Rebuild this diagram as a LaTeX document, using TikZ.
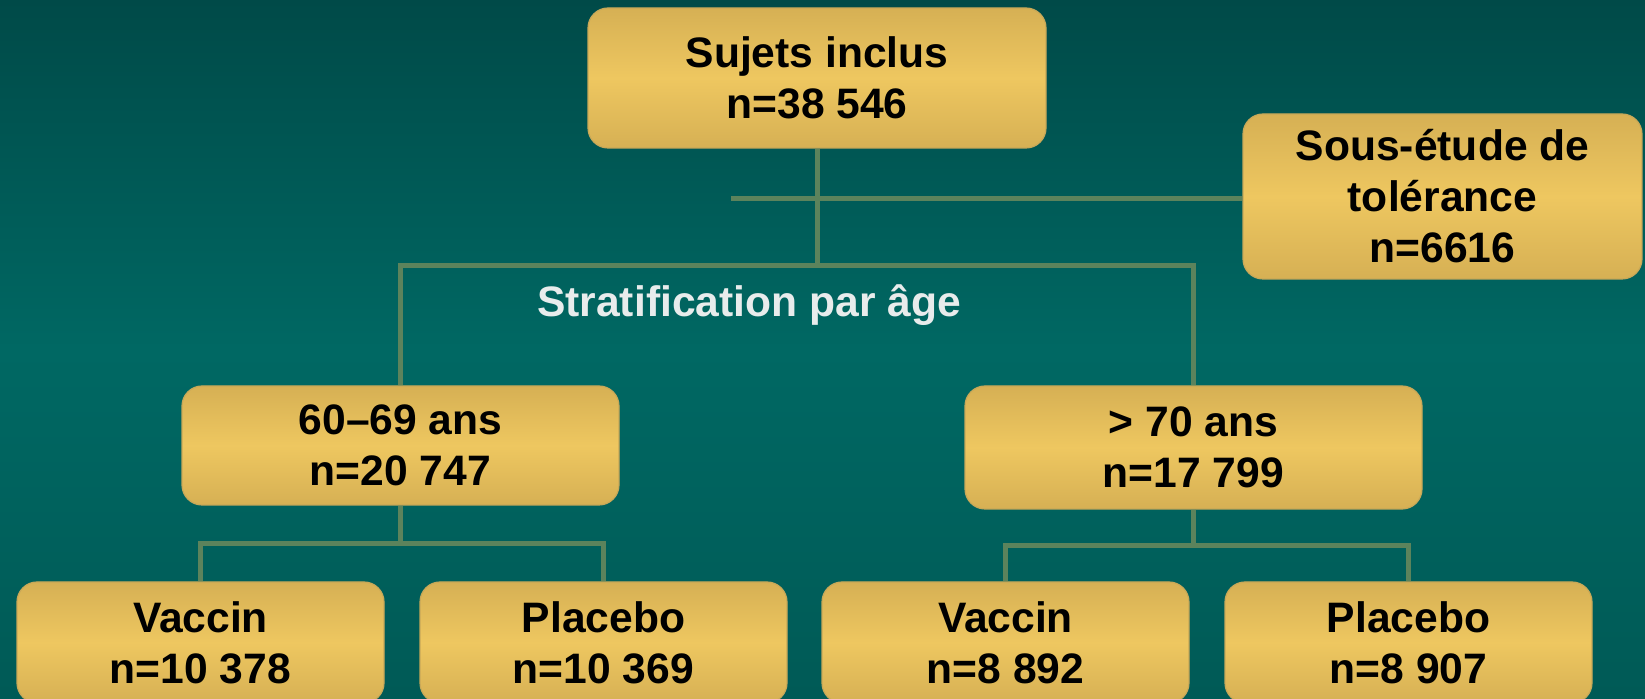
\documentclass[tikz,border=0pt]{standalone}
\usepackage{fontspec}
\setmainfont{Liberation Sans}
\usetikzlibrary{positioning}
\definecolor{bgtop}{RGB}{0,74,72}
\definecolor{bgmid}{RGB}{0,104,99}
\definecolor{bgbot}{RGB}{0,90,86}
\definecolor{golddark}{RGB}{214,176,84}
\definecolor{goldlight}{RGB}{238,199,96}
\definecolor{goldedge}{RGB}{200,168,88}
\definecolor{linkgreen}{RGB}{92,131,92}
\definecolor{labelgray}{RGB}{232,236,236}
\tikzset{
    every node/.style={rounded corners=10pt}
}

\begin{document}
\begin{tikzpicture}[
    x=0.5pt, y=-0.5pt,
    box/.style={draw=goldedge, line width=0.6pt, top color=golddark, bottom color=golddark,
        middle color=goldlight, align=center, inner sep=0pt,
        font=\bfseries\fontsize{21.3}{25.5}\selectfont},
    leaf/.style={box, minimum width=183.5pt, minimum height=60.5pt},
    link/.style={linkgreen, line width=2.5pt}
]
\useasboundingbox (0,0) rectangle (1645,699);
\shade[top color=bgtop, bottom color=bgbot, middle color=bgmid] (0,0) rectangle (1645,699);

\node[box, minimum width=229pt, minimum height=70pt] (incl) at (817,78) {Sujets inclus\\n=38 546};
\node[box, minimum width=199.5pt, minimum height=82.5pt] (tol) at (1442.5,196.5) {Sous-étude de\\tolérance\\n=6616};
\node[box, minimum width=218.5pt, minimum height=59.5pt] (jeunes) at (400.5,445.5) {60–69 ans\\n=20 747};
\node[box, minimum width=228.5pt, minimum height=61.5pt] (ages) at (1193.5,447.5) {> 70 ans\\n=17 799};
\node[font=\bfseries\fontsize{21.3}{25.5}\selectfont, text=labelgray] (strat) at (749,305) {Stratification par âge};

\node[leaf] (vaccA) at (200.5,642.5) {Vaccin\\n=10 378};
\node[leaf] (placA) at (603.5,642.5) {Placebo\\n=10 369};
\node[leaf] (vaccB) at (1005.5,642.5) {Vaccin\\n=8 892};
\node[leaf] (placB) at (1408.5,642.5) {Placebo\\n=8 907};

% Tree lines
\coordinate (split) at (817,266);
\coordinate (tolend) at (731,199);
\coordinate (splitA) at (400.5,544);
\coordinate (splitB) at (1193.5,546);
\draw[link] (incl.south) -- (split);
\draw[link] (tolend) -- (tolend -| tol.west);
\draw[link] (jeunes.north) |- (split) -| (ages.north);
\draw[link] (jeunes.south) -- (splitA);
\draw[link] (vaccA.north) |- (splitA) -| (placA.north);
\draw[link] (ages.south) -- (splitB);
\draw[link] (vaccB.north) |- (splitB) -| (placB.north);

\end{tikzpicture}
\end{document}
